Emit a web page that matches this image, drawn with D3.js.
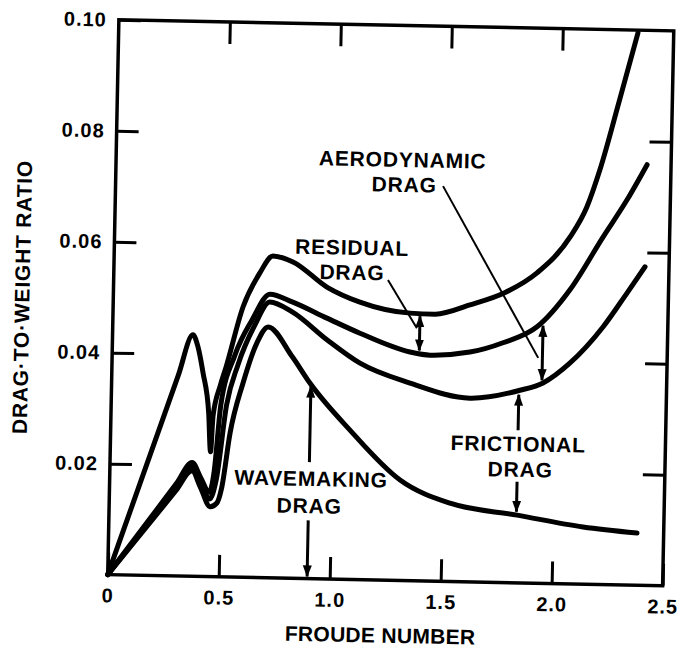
<!DOCTYPE html>
<html>
<head>
<meta charset="utf-8">
<script src="https://cdn.jsdelivr.net/npm/d3@7"></script>
<style>
  html, body { margin: 0; padding: 0; background: #fff; }
  svg { display: block; }
  text { font-family: "Liberation Sans", Arial, Helvetica, sans-serif; font-weight: bold; fill: #000; }
</style>
</head>
<body>
<div id="chart"></div>
<script>
// ---------------- DATA ----------------
const xTickValues = [0, 0.5, 1.0, 1.5, 2.0, 2.5];
const xTickLabels = ["0", "0.5", "1.0", "1.5", "2.0", "2.5"];
const yTickValues = [0.02, 0.04, 0.06, 0.08, 0.10];
const yTickLabels = ["0.02", "0.04", "0.06", "0.08", "0.10"];
const xTitle = "FROUDE NUMBER";
const yTitle = "DRAG·TO·WEIGHT RATIO";

// Top curve: total drag (wavemaking + frictional + aerodynamic + residual)
const totalX = [0.0, 0.30, 0.362, 0.385, 0.411, 0.440, 0.452, 0.460, 0.490, 0.514, 0.585, 0.658, 0.715, 0.806, 0.961, 1.111, 1.338, 1.450, 1.607, 1.762, 1.906, 2.052, 2.125, 2.180, 2.260, 2.339];
const totalY = [0.0, 0.0362, 0.0435, 0.0415, 0.0367, 0.0295, 0.0225, 0.0290, 0.0345, 0.0378, 0.0487, 0.0549, 0.0580, 0.0570, 0.0526, 0.0500, 0.0482, 0.0481, 0.0499, 0.0522, 0.0559, 0.0625, 0.0680, 0.0747, 0.0870, 0.0995];

// Second curve: wavemaking + frictional + aerodynamic
const waveFricAeroX = [0.0, 0.30, 0.370, 0.410, 0.450, 0.470, 0.494, 0.553, 0.627, 0.705, 0.806, 0.964, 1.114, 1.341, 1.432, 1.611, 1.759, 1.911, 2.056, 2.200, 2.305, 2.392];
const waveFricAeroY = [0.0, 0.0166, 0.0205, 0.0178, 0.0152, 0.0190, 0.0310, 0.0400, 0.0464, 0.0511, 0.0498, 0.0470, 0.0444, 0.0412, 0.0407, 0.0414, 0.0432, 0.0462, 0.0530, 0.0626, 0.0694, 0.0758];

// Third curve: wavemaking + frictional
const waveFricX = [0.0, 0.30, 0.370, 0.410, 0.452, 0.480, 0.520, 0.567, 0.640, 0.705, 0.807, 0.966, 1.117, 1.344, 1.615, 1.840, 1.943, 2.063, 2.208, 2.313, 2.392];
const waveFricY = [0.0, 0.0160, 0.0198, 0.0170, 0.0140, 0.0175, 0.0310, 0.0382, 0.0455, 0.0497, 0.0480, 0.0431, 0.0390, 0.0356, 0.0331, 0.0347, 0.0361, 0.0398, 0.0464, 0.0526, 0.0574];

// Bottom curve: wavemaking drag
const waveX = [0.0, 0.30, 0.370, 0.410, 0.455, 0.485, 0.505, 0.538, 0.592, 0.651, 0.700, 0.810, 0.894, 1.078, 1.308, 1.535, 1.838, 2.136, 2.380];
const waveY = [0.0, 0.0154, 0.0190, 0.0160, 0.0126, 0.0133, 0.0160, 0.0259, 0.0350, 0.0423, 0.0452, 0.0400, 0.0352, 0.0269, 0.0181, 0.0141, 0.0122, 0.0103, 0.0094];

// Annotation labels (text, Froude number, ratio at baseline)
const labelText = ["AERODYNAMIC", "DRAG", "RESIDUAL", "DRAG", "WAVEMAKING", "DRAG", "FRICTIONAL", "DRAG"];
const labelX    = [1.291, 1.300, 1.071, 1.073, 0.907, 0.901, 1.837, 1.848];
const labelY    = [0.0745, 0.0700, 0.0585, 0.0540, 0.0167, 0.0118, 0.0237, 0.0191];

// Arrows: [x1, y1] -> [x2, y2], head at end (and at start when double)
const arrowX1 = [0.898, 0.898, 1.835, 1.835, 1.383, 1.938];
const arrowY1 = [0.0210, 0.0105, 0.0275, 0.0182, 0.0415, 0.0366];
const arrowX2 = [0.898, 0.898, 1.835, 1.835, 1.383, 1.938];
const arrowY2 = [0.0346, 0.0004, 0.0339, 0.0128, 0.0477, 0.0464];
const arrowDouble = [false, false, false, false, true, true];

// Leader lines from labels to arrows
const leaderX1 = [1.2355, 1.475];
const leaderY1 = [0.0541, 0.0712];
const leaderX2 = [1.370, 1.919];
const leaderY2 = [0.0455, 0.0406];

// ---------------- CHART ----------------
const W = 680, H = 650;
const plot = { left: 113.25, right: 668.25, top: 25.25, bottom: 580.25 };

const svg = d3.select("#chart").append("svg").attr("width", W).attr("height", H);

const defs = svg.append("defs");
defs.append("marker")
  .attr("id", "head")
  .attr("viewBox", "0 0 12 10")
  .attr("refX", 11).attr("refY", 5)
  .attr("markerWidth", 12).attr("markerHeight", 10)
  .attr("markerUnits", "userSpaceOnUse")
  .attr("orient", "auto-start-reverse")
  .append("path").attr("d", "M0,0.5 L12,5 L0,9.5 Z").attr("fill", "#000");

const g = svg.append("g")
  .attr("transform", `rotate(1.15, ${(plot.left + plot.right) / 2}, ${(plot.top + plot.bottom) / 2})`);

const x = d3.scaleLinear().domain([0, 2.5]).range([plot.left, plot.right]);
const y = d3.scaleLinear().domain([0, 0.10]).range([plot.bottom, plot.top]);

// Axes
function styleAxis(sel) {
  sel.select(".domain").remove();
  sel.selectAll(".tick line").attr("stroke", "#000").attr("stroke-width", 3);
  sel.selectAll(".tick text")
    .attr("fill", "#000")
    .style("font-size", "20px")
    .style("letter-spacing", "1px")
    .style("font-family", "'Liberation Sans', Arial, sans-serif")
    .style("font-weight", "bold");
}

g.append("g").attr("transform", `translate(0,${y(0)})`)
  .call(d3.axisBottom(x).tickValues(xTickValues).tickFormat((d, i) => xTickLabels[i]).tickSize(-22).tickPadding(13.5))
  .call(styleAxis);

g.append("g").attr("transform", `translate(${x(0)},0)`)
  .call(d3.axisLeft(y).tickValues(yTickValues).tickFormat((d, i) => yTickLabels[i]).tickSize(-22).tickPadding(12))
  .call(styleAxis);

g.append("g").attr("transform", `translate(0,${y(0.10)})`)
  .call(d3.axisTop(x).tickValues(xTickValues.slice(1, -1)).tickFormat("").tickSize(-22))
  .call(styleAxis);

g.append("g").attr("transform", `translate(${x(2.5)},0)`)
  .call(d3.axisRight(y).tickValues(yTickValues.slice(0, -1)).tickFormat("").tickSize(-22))
  .call(styleAxis);

// Frame
g.append("rect")
  .attr("x", x(0)).attr("y", y(0.10))
  .attr("width", x(2.5) - x(0)).attr("height", y(0) - y(0.10))
  .attr("fill", "none").attr("stroke", "#000").attr("stroke-width", 3.5);

// Curves
const line = d3.line()
  .x(d => x(d[0])).y(d => y(d[1]))
  .curve(d3.curveMonotoneX);

const series = [
  [waveX, waveY],
  [waveFricX, waveFricY],
  [waveFricAeroX, waveFricAeroY],
  [totalX, totalY]
];
series.forEach(([xs, ys]) => {
  g.append("path")
    .datum(xs.map((v, i) => [v, ys[i]]))
    .attr("d", line)
    .attr("fill", "none")
    .attr("stroke", "#000")
    .attr("stroke-width", 5)
    .attr("stroke-linecap", "round")
    .attr("stroke-linejoin", "round");
});

// Leader lines
leaderX1.forEach((v, i) => {
  g.append("line")
    .attr("x1", x(v)).attr("y1", y(leaderY1[i]))
    .attr("x2", x(leaderX2[i])).attr("y2", y(leaderY2[i]))
    .attr("stroke", "#000").attr("stroke-width", 2);
});

// Arrows
arrowX1.forEach((v, i) => {
  const a = g.append("line")
    .attr("x1", x(v)).attr("y1", y(arrowY1[i]))
    .attr("x2", x(arrowX2[i])).attr("y2", y(arrowY2[i]))
    .attr("stroke", "#000").attr("stroke-width", 3)
    .attr("marker-end", "url(#head)");
  if (arrowDouble[i]) a.attr("marker-start", "url(#head)");
});

// Annotation text
labelText.forEach((t, i) => {
  g.append("text")
    .attr("x", x(labelX[i])).attr("y", y(labelY[i]))
    .attr("text-anchor", "middle")
    .style("font-size", "21px")
    .style("letter-spacing", "0.8px")
    .text(t);
});

// Axis titles
g.append("text")
  .attr("x", (plot.left + plot.right) / 2 - 4)
  .attr("y", plot.bottom + 62.5)
  .attr("text-anchor", "middle")
  .style("font-size", "21px")
  .style("letter-spacing", "0.3px")
  .text(xTitle);

g.append("text")
  .attr("transform", `translate(29.4, ${(plot.top + plot.bottom) / 2 + 1.7}) rotate(-90)`)
  .attr("text-anchor", "middle")
  .style("font-size", "21px")
  .style("letter-spacing", "0.8px")
  .text(yTitle);
</script>
</body>
</html>
